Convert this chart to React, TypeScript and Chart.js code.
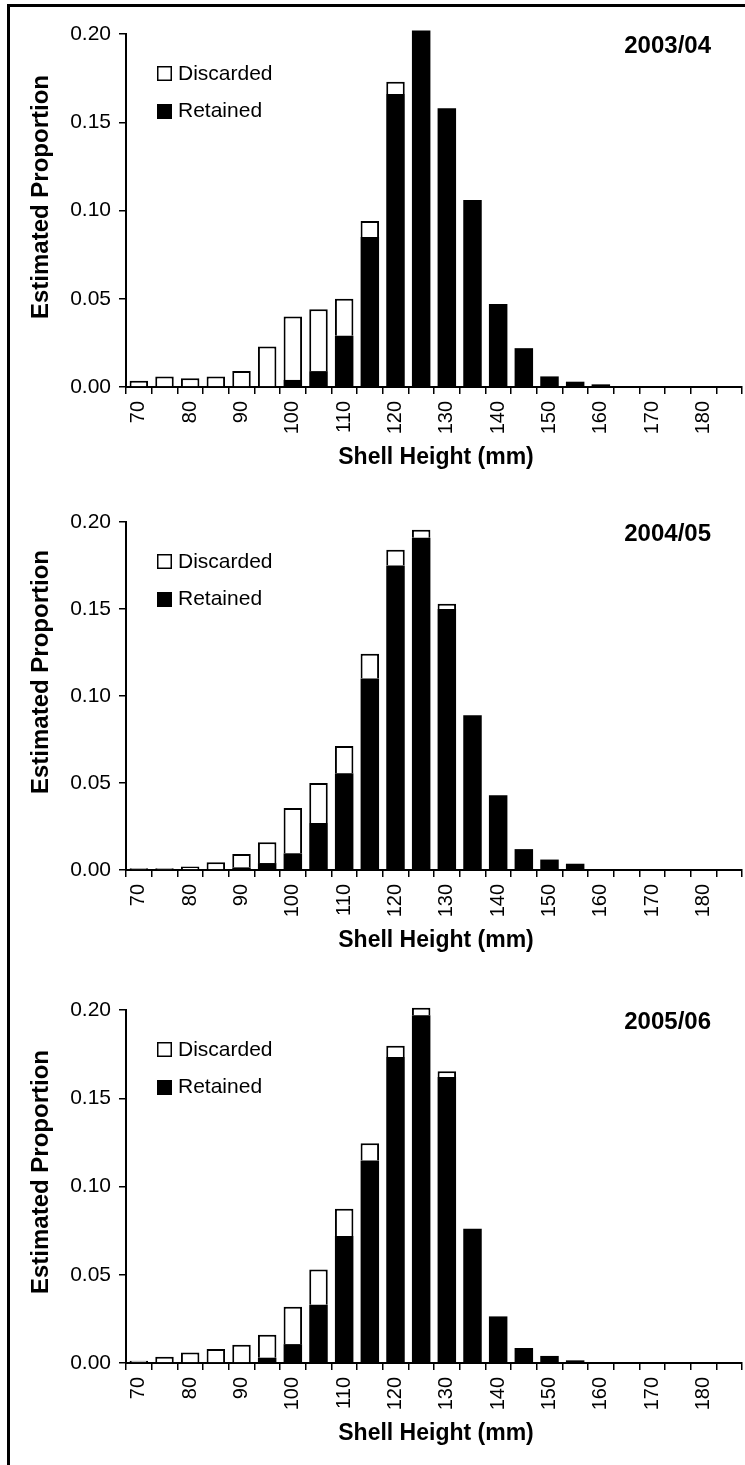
import React, { useEffect, useRef } from "react";
import { Chart, registerables } from "chart.js";

Chart.register(...registerables);

// ---------- data ----------
const sizeClasses = [
  "70", "75", "80", "85", "90", "95", "100", "105", "110", "115", "120", "125",
  "130", "135", "140", "145", "150", "155", "160", "165", "170", "175", "180", "185",
];

const seasons = ["2003/04", "2004/05", "2005/06"];
const seriesNames = ["Discarded", "Retained"];
const yTicks = [0, 0.05, 0.1, 0.15, 0.2];

const retained0304 = [
  0, 0, 0, 0, 0, 0, 0.004, 0.009, 0.029, 0.085, 0.166, 0.202,
  0.158, 0.106, 0.047, 0.022, 0.006, 0.003, 0.0015, 0, 0, 0, 0, 0,
];
const discarded0304 = [
  0.0035, 0.006, 0.005, 0.006, 0.009, 0.023, 0.036, 0.035, 0.021, 0.009, 0.007, 0,
  0, 0, 0, 0, 0, 0, 0, 0, 0, 0, 0, 0,
];

const retained0405 = [
  0, 0, 0, 0, 0.0015, 0.004, 0.0096, 0.027, 0.0556, 0.11, 0.175, 0.191,
  0.15, 0.089, 0.043, 0.012, 0.006, 0.0036, 0, 0, 0, 0, 0, 0,
];
const discarded0405 = [
  0.001, 0.001, 0.002, 0.0045, 0.0077, 0.012, 0.026, 0.023, 0.0157, 0.0143, 0.009, 0.0045,
  0.003, 0, 0, 0, 0, 0, 0, 0, 0, 0, 0, 0,
];

const retained0506 = [
  0, 0, 0, 0, 0, 0.003, 0.0107, 0.033, 0.072, 0.1147, 0.1734, 0.197,
  0.162, 0.076, 0.0264, 0.0085, 0.004, 0.0015, 0, 0, 0, 0, 0, 0,
];
const discarded0506 = [
  0.0013, 0.0036, 0.006, 0.008, 0.0104, 0.013, 0.0212, 0.02, 0.0154, 0.0098, 0.0064, 0.0043,
  0.0033, 0, 0, 0, 0, 0, 0, 0, 0, 0, 0, 0,
];

// ---------- layout ----------
const FONT = "'Liberation Sans', Arial, Helvetica, sans-serif";
const CANVAS_W = 745;
const CANVAS_H = 489;
const PANEL_TOPS = [0, 488, 976];

const panels = [
  { season: seasons[0], retained: retained0304, discarded: discarded0304, plotBottom: 387, yTitleY: 197 },
  { season: seasons[1], retained: retained0405, discarded: discarded0405, plotBottom: 382, yTitleY: 184 },
  { season: seasons[2], retained: retained0506, discarded: discarded0506, plotBottom: 387, yTitleY: 196 },
];

const annotatePlugin = {
  id: "annotate",
  afterDraw(chart: any, _args: any, opts: any) {
    const ctx = chart.ctx as CanvasRenderingContext2D;
    const area = chart.chartArea;
    ctx.save();
    ctx.fillStyle = "#000";

    // y title
    ctx.save();
    ctx.translate(47.5, opts.yTitleY);
    ctx.rotate(-Math.PI / 2);
    ctx.font = `bold 24px ${FONT}`;
    ctx.textAlign = "center";
    ctx.textBaseline = "alphabetic";
    ctx.fillText("Estimated Proportion", 0, 0);
    ctx.restore();

    // x title
    ctx.font = `bold 23px ${FONT}`;
    ctx.textAlign = "center";
    ctx.textBaseline = "alphabetic";
    ctx.fillText("Shell Height (mm)", 436, area.bottom + 77);

    // season label
    ctx.font = `bold 24px ${FONT}`;
    ctx.textAlign = "right";
    ctx.fillText(opts.season, 711, 53);

    // legend
    const rows = [
      { name: seriesNames[0], fill: "#fff", top: 66, base: 80 },
      { name: seriesNames[1], fill: "#000", top: 104, base: 117 },
    ];
    rows.forEach((r) => {
      ctx.fillStyle = r.fill;
      ctx.fillRect(157, r.top, 15, 15);
      ctx.strokeStyle = "#000";
      ctx.lineWidth = 1.5;
      ctx.strokeRect(157.75, r.top + 0.75, 13.5, 13.5);
      ctx.fillStyle = "#000";
      ctx.font = `21px ${FONT}`;
      ctx.textAlign = "left";
      ctx.fillText(r.name, 178, r.base);
    });

    ctx.restore();
  },
};

function makeChart(canvas: HTMLCanvasElement, p: typeof panels[number]) {
  return new Chart(canvas, {
    type: "bar",
    data: {
      labels: sizeClasses,
      datasets: [
        {
          label: seriesNames[1],
          data: p.retained,
          backgroundColor: "#000",
          borderColor: "#000",
          borderWidth: 0,
          categoryPercentage: 1,
          barPercentage: 0.72,
          clip: false as any,
        },
        {
          label: seriesNames[0],
          data: p.discarded,
          backgroundColor: "#fff",
          borderColor: "#000",
          borderWidth: 2,
          categoryPercentage: 1,
          barPercentage: 0.72,
          clip: false as any,
        },
      ],
    },
    options: {
      responsive: false,
      animation: false,
      devicePixelRatio: 1,
      layout: { padding: { top: 34, left: 0, right: 3, bottom: 0 } },
      plugins: {
        legend: { display: false },
        tooltip: { enabled: false },
        annotate: { season: p.season, yTitleY: p.yTitleY },
      } as any,
      scales: {
        x: {
          stacked: true,
          offset: true,
          grid: {
            display: true,
            offset: true,
            drawOnChartArea: false,
            drawTicks: true,
            tickLength: 7,
            color: "#000",
            lineWidth: 1.5,
          },
          border: { display: true, color: "#000", width: 2 },
          ticks: {
            autoSkip: false,
            minRotation: 90,
            maxRotation: 90,
            padding: 7,
            color: "#000",
            font: { size: 20, family: FONT },
            callback: function (this: any, value: any) {
              const lab = this.getLabelForValue(value);
              return Number(lab) % 10 === 0 ? lab : "";
            },
          },
          afterFit: (scale: any) => {
            scale.height = CANVAS_H - p.plotBottom;
            scale.paddingLeft = 0;
            scale.paddingRight = 0;
          },
        },
        y: {
          stacked: true,
          min: 0,
          max: 0.2,
          afterBuildTicks: (scale: any) => {
            scale.ticks = yTicks.map((v) => ({ value: v }));
          },
          grid: {
            display: true,
            drawOnChartArea: false,
            drawTicks: true,
            tickLength: 7,
            color: "#000",
            lineWidth: 1.5,
          },
          border: { display: true, color: "#000", width: 2 },
          ticks: {
            padding: 8,
            color: "#000",
            font: { size: 21, family: FONT },
            callback: (v: any) => Number(v).toFixed(2),
          },
          afterFit: (scale: any) => {
            scale.width = 126;
            scale.paddingTop = 0;
            scale.paddingBottom = 0;
          },
        },
      },
    },
    plugins: [annotatePlugin],
  });
}

export default function App() {
  const refs = [
    useRef<HTMLCanvasElement>(null),
    useRef<HTMLCanvasElement>(null),
    useRef<HTMLCanvasElement>(null),
  ];

  useEffect(() => {
    const charts = panels.map((p, i) => makeChart(refs[i].current!, p));
    return () => charts.forEach((c) => c.destroy());
  }, []);

  return (
    <div
      style={{
        position: "absolute",
        left: 0,
        top: 0,
        width: CANVAS_W,
        height: 1465,
        overflow: "hidden",
        background: "#fff",
      }}
    >
      {panels.map((p, i) => (
        <canvas
          key={p.season}
          ref={refs[i]}
          width={CANVAS_W}
          height={CANVAS_H}
          style={{ position: "absolute", left: 0, top: PANEL_TOPS[i], width: CANVAS_W, height: CANVAS_H }}
        />
      ))}
      <div
        style={{
          position: "absolute",
          left: 7,
          top: 4,
          width: 800,
          height: 1600,
          borderLeft: "3px solid #000",
          borderTop: "3px solid #000",
          boxSizing: "border-box",
          pointerEvents: "none",
        }}
      />
    </div>
  );
}
